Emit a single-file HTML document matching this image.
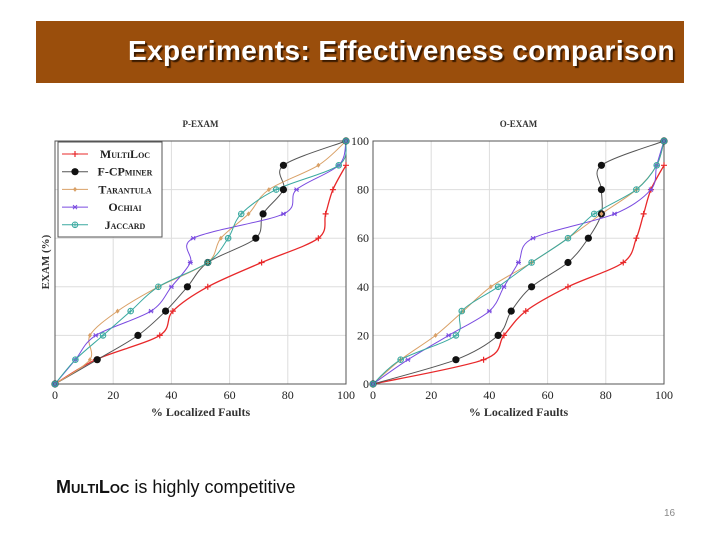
<!DOCTYPE html>
<html><head><meta charset="utf-8"><style>
body{margin:0;width:720px;height:540px;background:#fff;position:relative;overflow:hidden;font-family:"Liberation Sans",sans-serif}
#bar{position:absolute;left:36px;top:21px;width:648px;height:62px;background:#9a4e0c}
#title{position:absolute;right:9px;top:14px;color:#fff;font-size:28px;font-weight:bold;text-shadow:2px 2px 1px #3a1a00;letter-spacing:0.4px}
#foot{position:absolute;left:56px;top:477px;font-size:18px;color:#111}
#pg{position:absolute;left:664px;top:508px;font-size:10px;color:#888}
svg{position:absolute;left:0;top:0}
</style></head><body>
<div id="bar"><div id="title">Experiments: Effectiveness comparison</div></div>
<svg id="chart" width="720" height="540"></svg>
<div id="foot"><b style="font-variant:small-caps">MultiLoc</b> is highly competitive</div>
<div id="pg">16</div>
<script>
const seriesNames=["MultiLoc","F-CPminer","Tarantula","Ochiai","Jaccard"];
const xTicks=[0,20,40,60,80,100];
const yTicks=[0,20,40,60,80,100];
const pMulti=[[0,0],[14,10],[36,20],[40.5,30],[52.5,40],[71,50],[90.5,60],[93,70],[95.5,80],[100,90]];
const pFcp=[[0,0],[14.5,10],[28.5,20],[38,30],[45.5,40],[52.5,50],[69,60],[71.5,70],[78.5,80],[78.5,90],[100,100]];
const pTar=[[0,0],[12,10],[12,20],[21.5,30],[35.5,40],[52.5,50],[57,60],[66.5,70],[73.5,80],[90.5,90],[100,100]];
const pOch=[[0,0],[7,10],[14,20],[33,30],[40,40],[46.5,50],[47.5,60],[78.5,70],[83,80],[97.5,90],[100,100]];
const pJac=[[0,0],[7,10],[16.5,20],[26,30],[35.5,40],[52.5,50],[59.5,60],[64,70],[76,80],[97.5,90],[100,100]];
const oMulti=[[0,0],[38,10],[45,20],[52.5,30],[67,40],[86,50],[90.5,60],[93,70],[95.5,80],[100,90]];
const oFcp=[[0,0],[28.5,10],[43,20],[47.5,30],[54.5,40],[67,50],[74,60],[78.5,70],[78.5,80],[78.5,90],[100,100]];
const oTar=[[0,0],[9.5,10],[21.5,20],[31,30],[40.5,40],[54.5,50],[67,60],[78.5,70],[90.5,80],[97.5,90],[100,100]];
const oOch=[[0,0],[12,10],[26,20],[40,30],[45,40],[50,50],[55,60],[83,70],[95.5,80],[97.5,90],[100,100]];
const oJac=[[0,0],[9.5,10],[28.5,20],[30.5,30],[43,40],[54.5,50],[67,60],[76,70],[90.5,80],[97.5,90],[100,100]];

const svg=document.getElementById('chart');const NS='http://www.w3.org/2000/svg';
function mk(t,a,p){const e=document.createElementNS(NS,t);for(const k in a)e.setAttribute(k,a[k]);(p||svg).appendChild(e);return e;}
const colors=["#e8282a","#222","#d9a066","#7a4be0","#3aa9a0"];
const lineCol=["#e8282a","#555","#d9a066","#7a4be0","#3aa9a0"];
function path(pts){let d='M'+pts[0][0]+','+pts[0][1];for(let i=0;i<pts.length-1;i++){const p0=pts[Math.max(i-1,0)],p1=pts[i],p2=pts[i+1],p3=pts[Math.min(i+2,pts.length-1)];const t=0.16;d+=' C'+(p1[0]+(p2[0]-p0[0])*t)+','+(p1[1]+(p2[1]-p0[1])*t)+' '+(p2[0]-(p3[0]-p1[0])*t)+','+(p2[1]-(p3[1]-p1[1])*t)+' '+p2[0]+','+p2[1];}return d;}
function marker(g,k,x,y){const c=colors[k];
 if(k==0){mk('path',{d:`M${x-3},${y}h6M${x},${y-3}v6`,stroke:c,'stroke-width':1.2},g);}
 else if(k==1){mk('circle',{cx:x,cy:y,r:3.6,fill:'#111'},g);}
 else if(k==2){mk('path',{d:`M${x},${y-2.5}L${x+2},${y}L${x},${y+2.5}L${x-2},${y}Z`,fill:c},g);}
 else if(k==3){mk('path',{d:`M${x-2},${y-2}L${x+2},${y+2}M${x-2},${y+2}L${x+2},${y-2}M${x-2.5},${y}h5`,stroke:c,'stroke-width':1},g);}
 else {mk('circle',{cx:x,cy:y,r:2.8,fill:'none',stroke:c,'stroke-width':1},g);mk('path',{d:`M${x-2.8},${y}h5.6M${x},${y-2.8}v5.6`,stroke:c,'stroke-width':0.8},g);}
}
function plot(x0,x1,y0,y1,title,data,yLabels,name){
 const g=mk('g',{});
 
 
 const sx=v=>x0+(x1-x0)*v/100, sy=v=>y0-(y0-y1)*v/100;
 xTicks.forEach(t=>{if(t>0&&t<100){mk('line',{x1:sx(t),x2:sx(t),y1:y0,y2:y1,stroke:'#ddd','stroke-width':1},g);mk('line',{x1:x0,x2:x1,y1:sy(t),y2:sy(t),stroke:'#ddd','stroke-width':1},g);}
  const tl=mk('text',{x:sx(t),y:y0+15,'text-anchor':'middle','font-size':12,'font-family':'Liberation Serif,serif',fill:'#222'},g);tl.textContent=t;});
 if(yLabels)yTicks.forEach(t=>{const tl=mk('text',{x:x0-4,y:sy(t)+4,'text-anchor':'end','font-size':12,'font-family':'Liberation Serif,serif',fill:'#222'},g);tl.textContent=t;});
 mk('rect',{x:x0,y:y1,width:x1-x0,height:y0-y1,fill:'none',stroke:'#555','stroke-width':1},g);
 const tt=mk('text',{x:(x0+x1)/2,y:y1-14,'text-anchor':'middle','font-size':9,'font-weight':'bold','font-family':'Liberation Serif,serif',fill:'#333'},g);tt.textContent=title;
 const xt=mk('text',{x:(x0+x1)/2,y:y0+32,'text-anchor':'middle','font-size':12,'font-weight':'bold','font-family':'Liberation Serif,serif',fill:'#333'},g);xt.textContent='% Localized Faults';
 data.forEach((s,k)=>{const pts=s.map(p=>[sx(p[0]),sy(p[1])]);const l=mk('path',{d:path(pts),fill:'none',stroke:lineCol[k],'stroke-width':k==0?1.3:1},g);
  
  });
 data.forEach((s,k)=>s.forEach(p=>marker(g,k,sx(p[0]),sy(p[1]))));
 return g;
}
plot(55,346,384,141,'P-EXAM',[pMulti,pFcp,pTar,pOch,pJac],false,'p-exam-chart');
plot(373,664,384,141,'O-EXAM',[oMulti,oFcp,oTar,oOch,oJac],true,'o-exam-chart');
const yl=mk('text',{x:0,y:0,transform:'translate(49,262) rotate(-90)','text-anchor':'middle','font-size':11,'font-weight':'bold','font-family':'Liberation Serif,serif',fill:'#333'});yl.textContent='EXAM (%)';


const lg=mk('g',{});


mk('rect',{x:58,y:142,width:104,height:95,fill:'#fff',stroke:'#555','stroke-width':1},lg);
const labs=["MultiLoc","F-CPminer","Tarantula","Ochiai","Jaccard"];
labs.forEach((n,k)=>{const y=154+k*17.7;mk('line',{x1:62,x2:88,y1:y,y2:y,stroke:lineCol[k],'stroke-width':1},lg);marker(lg,k,75,y);
 const t=mk('text',{x:125,y:y+4,'text-anchor':'middle','font-size':12,'font-weight':'bold','font-family':'Liberation Serif,serif','font-variant':'small-caps',fill:'#222'},lg);t.textContent=n;
 
 });
</script>
</body></html>
